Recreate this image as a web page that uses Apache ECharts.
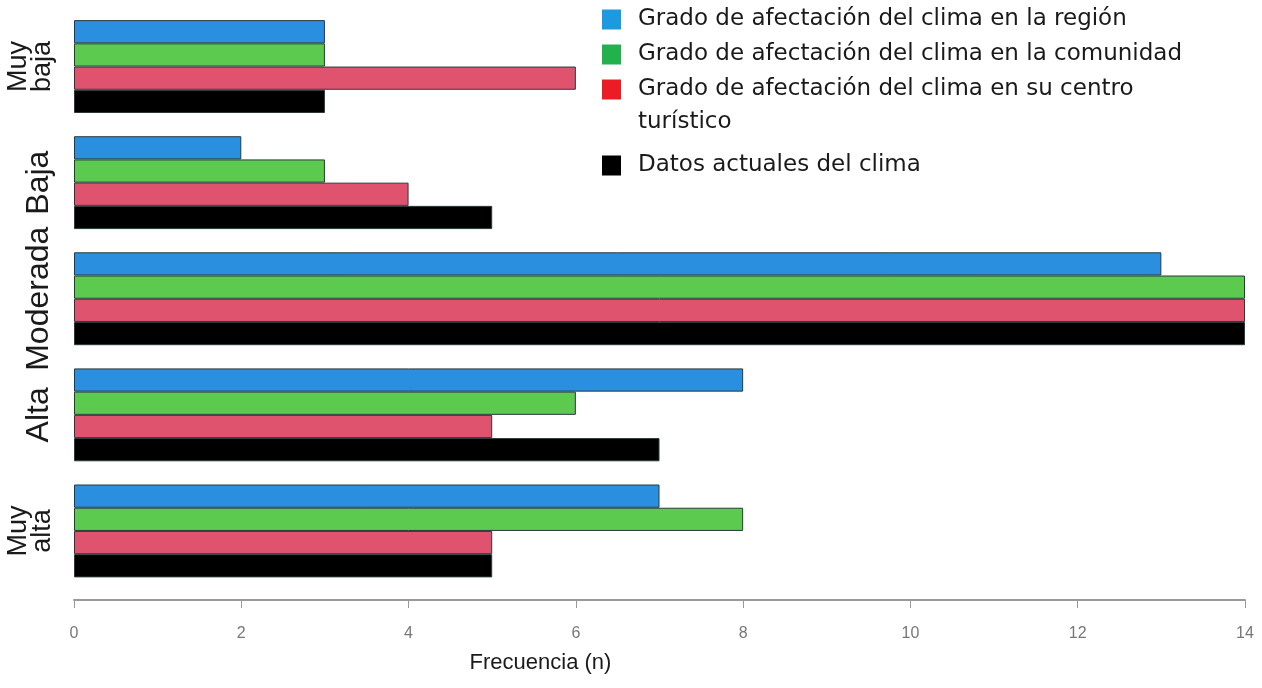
<!DOCTYPE html>
<html>
<head>
<meta charset="utf-8">
<script src="https://cdn.jsdelivr.net/npm/echarts@6/dist/echarts.min.js"></script>
<style>
html,body{margin:0;padding:0;background:#fff;}
#chart{width:1262px;height:688px;}
</style>
</head>
<body>
<div id="chart"></div>
<script>
const categories = ['Muy\nbaja', 'Baja', 'Moderada', 'Alta', 'Muy\nalta'];
const seriesNames = [
  'Grado de afectación del clima en la región',
  'Grado de afectación del clima en la comunidad',
  'Grado de afectación del clima en su centro turístico',
  'Datos actuales del clima'
];
const regionValues = [3, 2, 13, 8, 7];
const comunidadValues = [3, 3, 14, 6, 8];
const centroValues = [6, 4, 14, 5, 5];
const actualesValues = [3, 5, 14, 7, 5];
const xTicks = [0, 2, 4, 6, 8, 10, 12, 14];

const barColors = ['#2b8fe0', '#5cc94f', '#e0536e', '#000000'];
const legendColors = ['#1b9ae0', '#22b14c', '#ec1c24', '#000000'];
const values = [regionValues, comunidadValues, centroValues, actualesValues];

const chart = echarts.init(document.getElementById('chart'));
const font = '"Liberation Sans", Arial, sans-serif';
const legendFont = '"DejaVu Sans", "Liberation Sans", sans-serif';

const series = seriesNames.map((name, i) => ({
  name: name,
  type: 'bar',
  data: values[i],
  barGap: '0%',
  barCategoryGap: '20%',
  itemStyle: { color: barColors[i], borderColor: '#2a3a3a', borderWidth: 1 },
  emphasis: { disabled: true }
}));

const legendText = { fontFamily: legendFont, fontSize: 23, color: '#1a1a1a', lineHeight: 22, padding: [0, 0, 0, 12] };

chart.setOption({
  animation: false,
  backgroundColor: '#ffffff',
  grid: { left: 74, right: 17, top: 8.5, bottom: 99 },
  legend: [
    {
      orient: 'vertical', left: 602, top: 8, padding: 0,
      itemWidth: 19, itemHeight: 20, itemGap: 12,
      icon: 'rect',
      data: [0, 1, 2].map(i => ({ name: seriesNames[i], itemStyle: { color: legendColors[i], borderWidth: 0 } })),
      formatter: n => n.replace(' turístico', ''),
      textStyle: legendText,
      selectedMode: false
    },
    {
      orient: 'vertical', left: 602, top: 154, padding: 0,
      itemWidth: 19, itemHeight: 20, itemGap: 12,
      icon: 'rect',
      data: [{ name: seriesNames[3], itemStyle: { color: legendColors[3], borderWidth: 0 } }],
      textStyle: legendText,
      selectedMode: false
    }
  ],
  graphic: [{
    type: 'text', left: 638, top: 111,
    style: { text: 'turístico', fontFamily: legendFont, fontSize: 23, fill: '#1a1a1a' }
  }],
  xAxis: {
    type: 'value', min: 0, max: 14, interval: 2,
    offset: 11,
    axisLine: { show: true, lineStyle: { color: '#999999', width: 2 } },
    axisTick: { show: true, length: 8, lineStyle: { color: '#999999', width: 1 } },
    splitLine: { show: false },
    axisLabel: {
      margin: 26, fontFamily: '"Liberation Sans Narrow", "Liberation Sans", sans-serif', fontSize: 16, color: '#777',
      formatter: v => xTicks.indexOf(v) >= 0 ? String(v) : ''
    },
    name: 'Frecuencia (n)', nameLocation: 'middle', nameGap: 52,
    nameTextStyle: { fontFamily: font, fontSize: 22, color: '#1a1a1a', padding: [0, 238, 0, 0] }
  },
  yAxis: {
    type: 'category', data: categories, inverse: true,
    axisLine: { show: false }, axisTick: { show: false },
    axisLabel: {
      rotate: 90, margin: 19,
      formatter: v => v.indexOf('\n') >= 0 ? '{s|' + v.replace('\n', '}\n{s|') + '}' : '{m|' + v + '}',
      rich: {
        s: { fontFamily: font, fontSize: 27, lineHeight: 24, color: '#1a1a1a' },
        m: { fontFamily: font, fontSize: 32, color: '#1a1a1a' }
      }
    }
  },
  series: series
});
</script>
</body>
</html>
